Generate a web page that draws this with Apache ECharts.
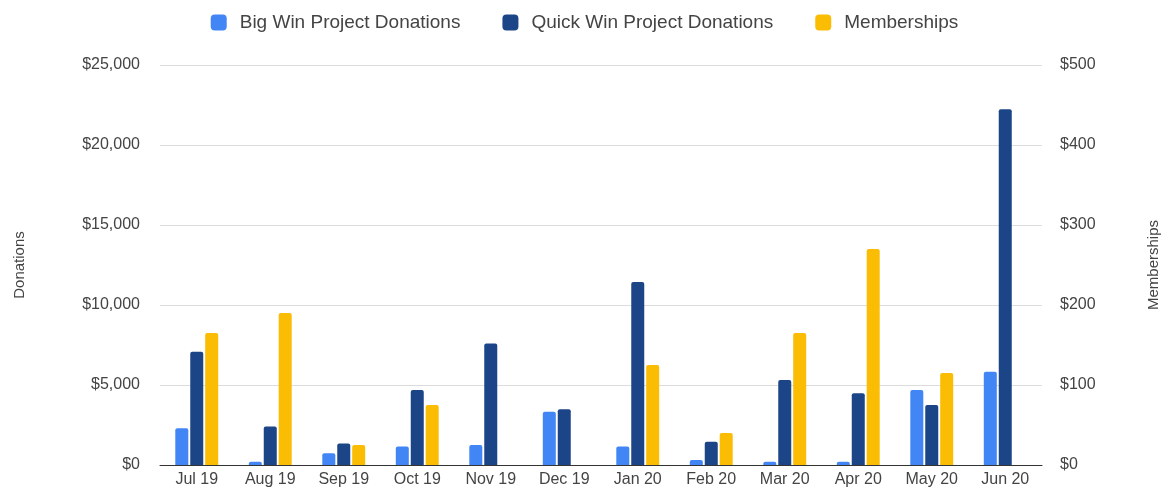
<!DOCTYPE html>
<html>
<head>
<meta charset="utf-8">
<script src="https://cdn.jsdelivr.net/npm/echarts@6/dist/echarts.min.js"></script>
<style>
  html, body { margin: 0; padding: 0; background: #fff; }
  #chart { width: 1169px; height: 497px; }
</style>
</head>
<body>
<div id="chart"></div>
<script>
  const months = ['Jul 19', 'Aug 19', 'Sep 19', 'Oct 19', 'Nov 19', 'Dec 19',
                  'Jan 20', 'Feb 20', 'Mar 20', 'Apr 20', 'May 20', 'Jun 20'];
  const bigWin = [2290, 200, 730, 1150, 1250, 3330, 1150, 310, 200, 200, 4690, 5830];
  const quickWin = [7080, 2400, 1350, 4690, 7600, 3480, 11440, 1460, 5310, 4480, 3750, 22230];
  const memberships = [165, 190, 25, 75, 0, 0, 125, 40, 165, 270, 115, 0];

  const font = 'Liberation Sans, Arial, sans-serif';
  const textColor = '#444';

  const chart = echarts.init(document.getElementById('chart'));

  function money(v) {
    return '$' + v.toLocaleString('en-US');
  }

  const option = {
    animation: false,
    textStyle: { fontFamily: font },
    color: ['#4285F4', '#1C4587', '#FBBC04'],
    legend: {
      top: 8,
      left: 'center',
      itemWidth: 16,
      itemHeight: 16,
      itemGap: 42,
      icon: 'roundRect',
      textStyle: { fontSize: 19, color: textColor, fontFamily: font, padding: [0, 0, 0, 8] },
      data: ['Big Win Project Donations', 'Quick Win Project Donations', 'Memberships']
    },
    grid: { left: 160, right: 127, top: 65, bottom: 32 },
    xAxis: {
      type: 'category',
      data: months,
      axisTick: { show: false },
      axisLine: { lineStyle: { color: '#333', width: 1 } },
      axisLabel: { fontSize: 16, color: textColor, margin: 7, interval: 0 }
    },
    yAxis: [
      {
        type: 'value',
        min: 0, max: 25000, interval: 5000,
        name: 'Donations',
        nameLocation: 'middle',
        nameGap: 133,
        nameTextStyle: { fontSize: 15, color: textColor },
        axisLabel: { fontSize: 16, color: textColor, margin: 20, formatter: money },
        splitLine: { lineStyle: { color: '#dcdcdc', width: 1 } }
      },
      {
        type: 'value',
        min: 0, max: 500, interval: 100,
        name: 'Memberships',
        nameLocation: 'middle',
        nameGap: 104,
        nameTextStyle: { fontSize: 15, color: textColor },
        axisLabel: { fontSize: 16, color: textColor, margin: 18, formatter: money },
        splitLine: { show: false }
      }
    ],
    series: [
      {
        name: 'Big Win Project Donations',
        type: 'bar',
        data: bigWin,
        barWidth: 13,
        barGap: '15%',
        itemStyle: { borderRadius: [2, 2, 0, 0] }
      },
      {
        name: 'Quick Win Project Donations',
        type: 'bar',
        data: quickWin,
        barWidth: 13,
        barGap: '15%',
        itemStyle: { borderRadius: [2, 2, 0, 0] }
      },
      {
        name: 'Memberships',
        type: 'bar',
        yAxisIndex: 1,
        data: memberships,
        barWidth: 13,
        barGap: '15%',
        itemStyle: { borderRadius: [2, 2, 0, 0] }
      }
    ]
  };

  chart.setOption(option);
</script>
</body>
</html>
